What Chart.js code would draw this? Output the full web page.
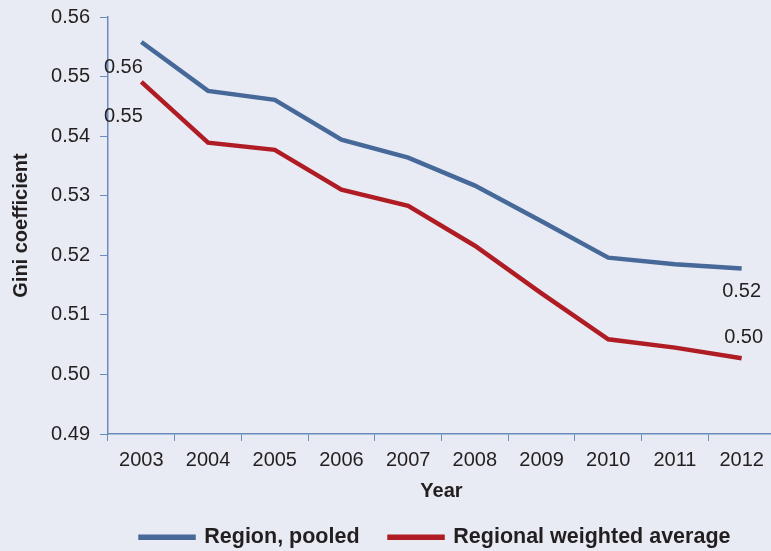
<!DOCTYPE html>
<html>
<head>
<meta charset="utf-8">
<script src="https://cdn.jsdelivr.net/npm/chart.js@4.4.1/dist/chart.umd.min.js"></script>
<style>
  html, body { margin: 0; padding: 0; background: #e8ebf3; overflow: hidden; }
  #wrap { width: 775px; height: 563px; margin-top: -5px; position: relative; }
</style>
</head>
<body>
<div id="wrap"><canvas id="gini"></canvas></div>
<script>
// Data
const years = ['2003', '2004', '2005', '2006', '2007', '2008', '2009', '2010', '2011', '2012'];
const pooled = [0.5558, 0.5476, 0.5461, 0.5394, 0.5364, 0.5317, 0.5257, 0.5196, 0.5185, 0.5178];
const weighted = [0.5491, 0.5389, 0.5377, 0.5310, 0.5283, 0.5216, 0.5136, 0.5059, 0.5045, 0.5027];
const yTicks = [0.49, 0.50, 0.51, 0.52, 0.53, 0.54, 0.55, 0.56];

const colors = {
    blue: '#46699a',
    red: '#b01c24',
    axis: '#6a8cbc',
    text: '#231f20'
};
const font = '"Liberation Sans", Arial, sans-serif';

// Value labels next to the first and last points
const endLabels = {
    id: 'endLabels',
    afterDatasetsDraw(chart) {
        const { ctx, scales: { x, y } } = chart;
        const first = 0, last = years.length - 1;
        ctx.save();
        ctx.font = '20px ' + font;
        ctx.fillStyle = colors.text;
        ctx.textAlign = 'center';
        ctx.textBaseline = 'middle';
        const xl = x.getPixelForValue(first) - 18;
        ctx.fillText(pooled[first].toFixed(2), xl, y.getPixelForValue(pooled[first]) + 25);
        ctx.fillText(weighted[first].toFixed(2), xl, y.getPixelForValue(weighted[first]) + 35);
        const xr = x.getPixelForValue(last);
        ctx.fillText(pooled[last].toFixed(2), xr, y.getPixelForValue(pooled[last]) + 23);
        ctx.fillText(weighted[last].toFixed(2), xr + 2, y.getPixelForValue(weighted[last]) - 21);
        ctx.restore();
    }
};

// The legend in the reference sits right of centre
const legendShift = {
    id: 'legendShift',
    afterLayout(chart) {
        chart.legend.left += 48;
        chart.legend.right += 48;
    }
};

const ctx = document.getElementById('gini').getContext('2d');
new Chart(ctx, {
    type: 'line',
    data: {
        labels: years,
        datasets: [{
            label: 'Region, pooled',
            data: pooled,
            borderColor: colors.blue,
            backgroundColor: colors.blue,
            borderWidth: 4.5,
            pointRadius: 0,
            tension: 0
        }, {
            label: 'Regional weighted average',
            data: weighted,
            borderColor: colors.red,
            backgroundColor: colors.red,
            borderWidth: 4.5,
            pointRadius: 0,
            tension: 0
        }]
    },
    options: {
        responsive: true,
        maintainAspectRatio: false,
        animation: false,
        layout: { padding: 0 },
        plugins: {
            legend: {
                position: 'bottom',
                labels: {
                    boxWidth: 53,
                    boxHeight: 1,
                    padding: 30,
                    color: colors.text,
                    font: { family: font, size: 21.5, weight: 'bold' }
                }
            },
            tooltip: { enabled: false }
        },
        scales: {
            x: {
                offset: true,
                grid: {
                    offset: true,
                    drawOnChartArea: false,
                    drawTicks: true,
                    tickLength: 7,
                    color: colors.axis
                },
                border: { color: colors.axis, width: 1.5 },
                ticks: {
                    color: colors.text,
                    padding: 7,
                    maxRotation: 0,
                    font: { family: font, size: 20 }
                },
                title: {
                    display: true,
                    text: 'Year',
                    color: colors.text,
                    padding: { top: 8, bottom: -7 },
                    font: { family: font, size: 20, weight: 'bold' }
                },
                afterFit: (scale) => { scale.height = 62.5; }
            },
            y: {
                min: 0.49,
                max: 0.56,
                afterBuildTicks: (scale) => {
                    scale.ticks = yTicks.map(v => ({ value: v }));
                },
                grid: {
                    drawOnChartArea: false,
                    drawTicks: true,
                    tickLength: 8,
                    color: colors.axis
                },
                border: { color: colors.axis, width: 1.5 },
                ticks: {
                    color: colors.text,
                    padding: 10,
                    font: { family: font, size: 20 },
                    callback: (v) => Number(v).toFixed(2)
                },
                title: {
                    display: true,
                    text: 'Gini coefficient',
                    color: colors.text,
                    padding: { top: 9, bottom: 0 },
                    font: { family: font, size: 20, weight: 'bold' }
                },
                afterFit: (scale) => { scale.width = 108; }
            }
        }
    },
    plugins: [endLabels, legendShift]
});
</script>
</body>
</html>
